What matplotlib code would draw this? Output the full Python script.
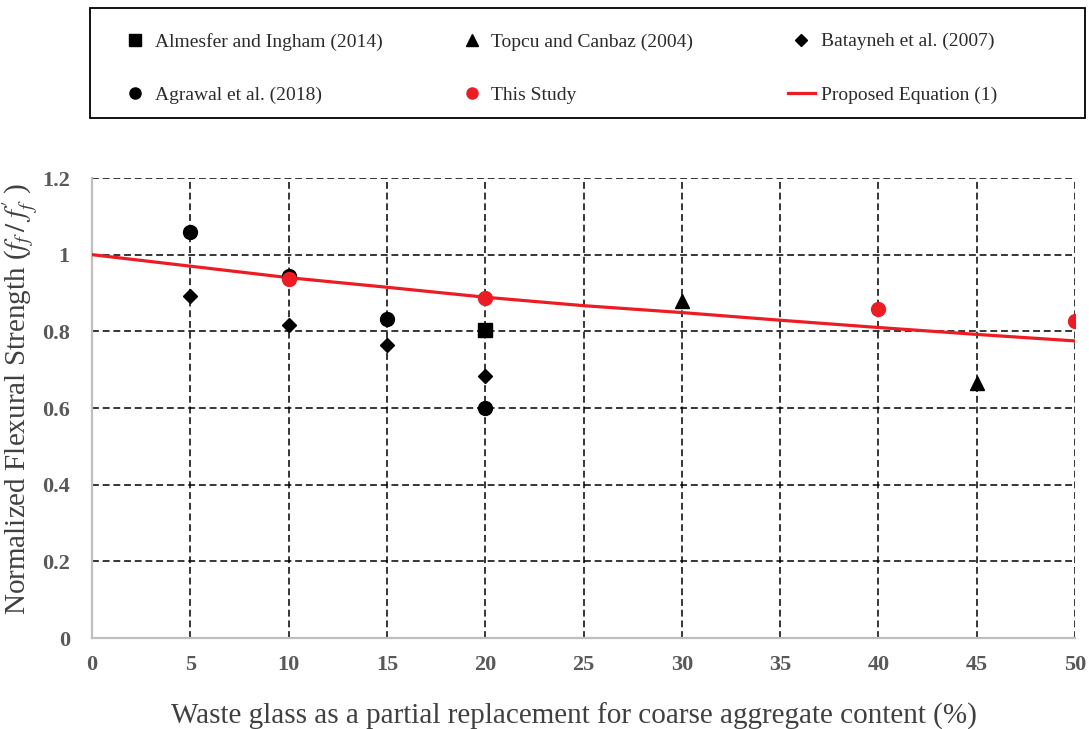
import matplotlib
matplotlib.use("Agg")
import matplotlib.pyplot as plt
from matplotlib.patches import Rectangle
from matplotlib.lines import Line2D

# Data: waste glass replacement (%) vs normalized flexural strength
almesfer_x = [20]
almesfer_y = [0.804]

topcu_x = [30, 45]
topcu_y = [0.879, 0.665]

batayneh_x = [5, 10, 15, 20]
batayneh_y = [0.892, 0.817, 0.764, 0.684]

agrawal_x = [5, 10, 15, 20]
agrawal_y = [1.059, 0.944, 0.832, 0.600]

study_x = [10, 20, 40, 50]
study_y = [0.937, 0.887, 0.858, 0.827]

# Proposed equation (1), sampled along the replacement range
eq_x = [0, 5, 10, 15, 20, 25, 30, 35, 40, 45, 50]
eq_y = [1.000, 0.970, 0.940, 0.915, 0.889, 0.867, 0.849, 0.829, 0.810, 0.792, 0.775]

x_ticks = [0, 5, 10, 15, 20, 25, 30, 35, 40, 45, 50]
y_ticks = [0, 0.2, 0.4, 0.6, 0.8, 1.0, 1.2]
y_tick_labels = ["0", "0.2", "0.4", "0.6", "0.8", "1", "1.2"]

RED = "#ED1C24"
SERIF = ["Liberation Serif", "DejaVu Serif"]
plt.rcParams["font.family"] = SERIF
plt.rcParams["mathtext.fontset"] = "stix"

W, H = 1089, 729
fig = plt.figure(figsize=(W / 100, H / 100), dpi=100)
ax = fig.add_axes([92 / W, 1 - 638 / H, (1075 - 92) / W, (638 - 178) / H])

ax.set_xlim(0, 50)
ax.set_ylim(0, 1.2)
ax.set_xticks(x_ticks)
ax.set_yticks(y_ticks)
ax.set_yticklabels(y_tick_labels)

ax.grid(True, color="black", linestyle=(0, (4.5, 2.5)), linewidth=1.1)
ax.set_axisbelow(True)
for side in ("top", "right"):
    ax.spines[side].set_visible(False)
for side in ("left", "bottom"):
    ax.spines[side].set_color("#BFBFBF")
    ax.spines[side].set_linewidth(1.6)

ax.tick_params(length=0, labelsize=16, colors="#595959")
ax.tick_params(axis="y", pad=16)
ax.tick_params(axis="x", pad=12)
for lab in ax.get_xticklabels() + ax.get_yticklabels():
    lab.set_fontweight("bold")

ax.plot(eq_x, eq_y, color=RED, linewidth=2.3, zorder=3)
ax.plot(almesfer_x, almesfer_y, "s", color="black", markersize=9.5, zorder=4)
ax.plot(topcu_x, topcu_y, "^", color="black", markersize=10, zorder=4)
ax.plot(batayneh_x, batayneh_y, "D", color="black", markersize=7, zorder=4)
ax.plot(agrawal_x, agrawal_y, "o", color="black", markersize=10, zorder=4)
ax.plot(study_x, study_y, "o", color=RED, markersize=10, zorder=5)

ax.set_xlabel("Waste glass as a partial replacement for coarse aggregate content (%)",
              fontsize=21, color="#404040", labelpad=20)
ax.xaxis.label.set_x((574 - 92) / 983)
ax.set_ylabel(r"Normalized Flexural Strength ($f_f\,/\;f^{\prime}_{f}\;$)",
              fontsize=21, color="#404040")
ax.yaxis.set_label_coords((40 - 92) / 983, 0.52)

# Legend frame and entries above the plot
fig.patches.append(Rectangle((90 / W, 1 - 118 / H), (1085 - 90) / W, (118 - 8) / H,
                             transform=fig.transFigure, fill=False,
                             edgecolor="black", linewidth=1.3))

legend_kw = dict(loc="upper left", frameon=False, fontsize=14, handlelength=1.4,
                 handletextpad=0.3, labelspacing=1.85, borderpad=0,
                 labelcolor="#2b2b2b")

left_handles = [
    Line2D([], [], marker="s", color="black", linestyle="none", markersize=8),
    Line2D([], [], marker="o", color="black", linestyle="none", markersize=8),
    Line2D([], [], marker="^", color="black", linestyle="none", markersize=8.5),
    Line2D([], [], marker="o", color=RED, linestyle="none", markersize=8),
]
left_labels = [
    "Almesfer and Ingham (2014)",
    "Agrawal et al. (2018)",
    "Topcu and Canbaz (2004)",
    "This Study",
]
right_handles = [
    Line2D([], [], marker="D", color="black", linestyle="none", markersize=6),
    Line2D([], [], color=RED, linewidth=2.3),
]
right_labels = [
    "Batayneh et al. (2007)",
    "Proposed Equation (1)",
]
leg_a = fig.legend(left_handles, left_labels, ncol=2, columnspacing=3.9,
                   bbox_to_anchor=(112 / W, 1 - 23 / H), **legend_kw)
leg_b = fig.legend(right_handles, right_labels, ncol=1,
                   bbox_to_anchor=(778 / W, 1 - 23 / H), **legend_kw)

fig.savefig("out.png", dpi=100)
